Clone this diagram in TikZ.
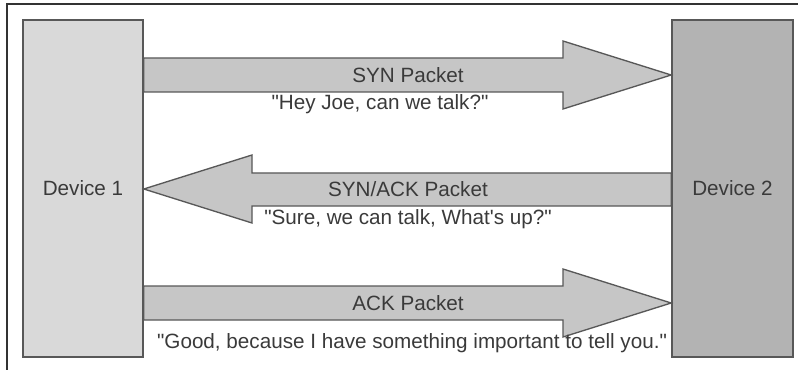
\documentclass[tikz,border=0pt]{standalone}
\usepackage{fontspec}
\setmainfont{Liberation Sans}
\definecolor{devlight}{HTML}{D9D9D9}
\definecolor{devdark}{HTML}{B3B3B3}
\definecolor{arrowgray}{HTML}{C6C6C6}
\definecolor{edgegray}{HTML}{585858}
\definecolor{textgray}{HTML}{3A3A3A}
\newcommand{\dq}{\textquotedbl}

\begin{document}
\begin{tikzpicture}[x=0.75pt,y=-0.75pt,
    every node/.style={text=textgray,font=\fontsize{15.5}{18}\selectfont},
    device/.style={draw=edgegray,line width=1.2pt,minimum width=90pt,minimum height=252.75pt,inner sep=0pt},
    bigarrow/.style={draw=edgegray,line width=1pt,fill=arrowgray,line join=miter}]

      \useasboundingbox (0,0) rectangle (798,370);
      \draw[line width=1.6pt,draw=black!80] (7,370) -- (7,4) -- (798,4);

      \node[device,fill=devlight] (dev1) at (83,188.5) {Device 1};
      \node[device,fill=devdark,minimum width=90.75pt] (dev2) at (732.5,188.5) {Device 2};

      % SYN
      \draw[bigarrow] (dev1.east |- 0,58) -- (563,58) -- (563,41) -- (dev2.west |- 0,75)
        -- (563,109) -- (563,92) -- (dev1.east |- 0,92) -- cycle;
      \node (syn) at (408,75) {SYN Packet};
      \node (synmsg) at (380,104) {\dq Hey Joe, can we talk?\dq};

      % SYN/ACK
      \draw[bigarrow] (dev2.west |- 0,173) -- (252,173) -- (252,155) -- (dev1.east |- 0,189)
        -- (252,223) -- (252,206) -- (dev2.west |- 0,206) -- cycle;
      \node (synack) at (408,189) {SYN/ACK Packet};
      \node (synackmsg) at (408,219) {\dq Sure, we can talk, What\textquotesingle s up?\dq};

      % ACK
      \draw[bigarrow] (dev1.east |- 0,286) -- (563,286) -- (563,269) -- (dev2.west |- 0,303)
        -- (563,337) -- (563,320) -- (dev1.east |- 0,320) -- cycle;
      \node (ack) at (408,303) {ACK Packet};
      \node (ackmsg) at (412,343) {\dq Good, because I have something important to tell you.\dq};

    \end{tikzpicture}
\end{document}
